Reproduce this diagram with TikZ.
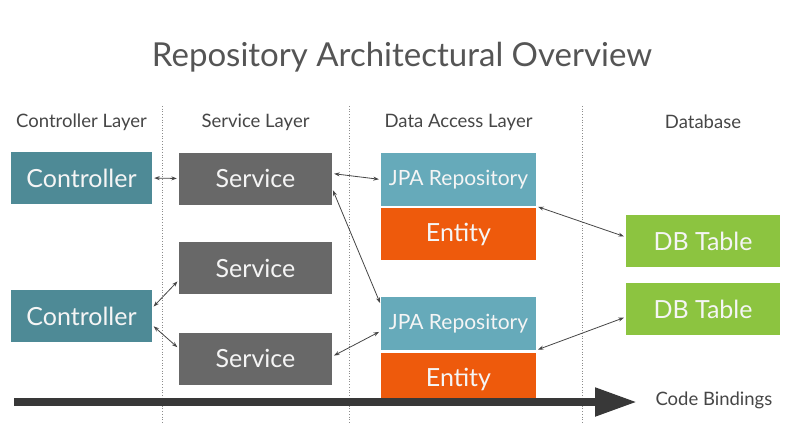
\documentclass[tikz,border=0pt]{standalone}
\usepackage{fontspec}
\setmainfont{Lato}
\usepackage{tikz}
\usetikzlibrary{arrows.meta,positioning,calc}
\usepackage{xcolor}
\definecolor{ctrlteal}{RGB}{78,138,150}
\definecolor{jpateal}{RGB}{102,170,186}
\definecolor{svcgray}{RGB}{104,104,104}
\definecolor{entorange}{RGB}{238,90,12}
\definecolor{dbgreen}{RGB}{140,196,64}
\definecolor{inkgray}{RGB}{70,70,70}
\definecolor{titlegray}{RGB}{85,85,85}
\tikzset{
  block/.style={inner sep=0pt, minimum height=52pt, text=white!96!black, align=center, font=\fontsize{25}{28}\selectfont},
  ctrlbox/.style={block, fill=ctrlteal, minimum width=141pt},
  svcbox/.style={block, fill=svcgray, minimum width=153pt},
  jpabox/.style={block, fill=jpateal, minimum width=155pt, font=\fontsize{21}{24}\selectfont},
  entbox/.style={block, fill=entorange, minimum width=155pt},
  dbbox/.style={block, fill=dbgreen, minimum width=154pt},
  layerhead/.style={text=inkgray, font=\fontsize{18.5}{21}\selectfont},
  divider/.style={draw=black!45, line width=0.7pt, dotted},
  link/.style={{Stealth[length=5.5pt,width=4pt]}-{Stealth[length=5.5pt,width=4pt]}, draw=inkgray, line width=0.8pt, shorten <=2pt, shorten >=2pt},
  bindarrow/.style={-{Triangle[length=42pt,width=27pt]}, draw=black!78, line width=8pt}
}
\begin{document}
\begin{tikzpicture}[x=1pt,y=-1pt]
\useasboundingbox[fill=white] (0,0) rectangle (800,424);
\node[text=titlegray, font=\fontsize{33}{38}\selectfont] (title) at (402,57) {Repository Architectural Overview};
\node[layerhead] (hctrl) at (81.5,122) {Controller Layer};
\node[layerhead] (hsvc) at (255.5,122) {Service Layer};
\node[layerhead] (hdao) at (458.5,122) {Data Access Layer};
\node[layerhead] (hdb) at (703,122) {Database};
\foreach \x in {162,349,582}
  \draw[divider] (\x,106) -- (\x,424);
\node[ctrlbox] (ctrlA) at (81.5,178) {Controller};
\node[ctrlbox] (ctrlB) at (81.5,316) {Controller};
\node[svcbox] (svcA) at (255.5,178.5) {Service};
\node[svcbox] (svcB) at (255.5,268) {Service};
\node[svcbox] (svcC) at (255.5,358.5) {Service};
\node[jpabox, minimum height=53pt] (jpaA) at (458.5,179.5) {JPA Repository};
\node[entbox] (entA) at (458.5,234) {Entity};
\node[jpabox, minimum height=53pt] (jpaB) at (458.5,323.5) {JPA Repository};
\node[entbox] (entB) at (458.5,379) {Entity};
\node[dbbox] (dbA) at (703,241) {DB Table};
\node[dbbox] (dbB) at (703,309) {DB Table};
\draw[link] (ctrlA.east) -- (svcA.west);
\draw[link] ($(svcA.east)+(0,-5)$) -- (jpaA.west);
\draw[link] ($(svcA.east)+(0,10)$) -- ($(jpaB.north west)+(0,8)$);
\draw[link] (jpaA.south east) -- ($(dbA.west)+(0,-4)$);
\draw[link] ($(ctrlB.east)+(0,-8)$) -- ($(svcB.west)+(0,12)$);
\draw[link] ($(ctrlB.east)+(0,9)$) -- ($(svcC.west)+(0,-10)$);
\draw[link] ($(svcC.east)+(0,-2)$) -- ($(jpaB.west)+(0,7.5)$);
\draw[link] (jpaB.south east) -- ($(dbB.west)+(0,8)$);
\coordinate (bindstart) at (14,402);
\coordinate (bindend) at (637,402);
\draw[bindarrow] (bindstart) -- (bindend);
\node[layerhead, anchor=west] (bindlabel) at (652,400) {Code Bindings};
\end{tikzpicture}
\end{document}
